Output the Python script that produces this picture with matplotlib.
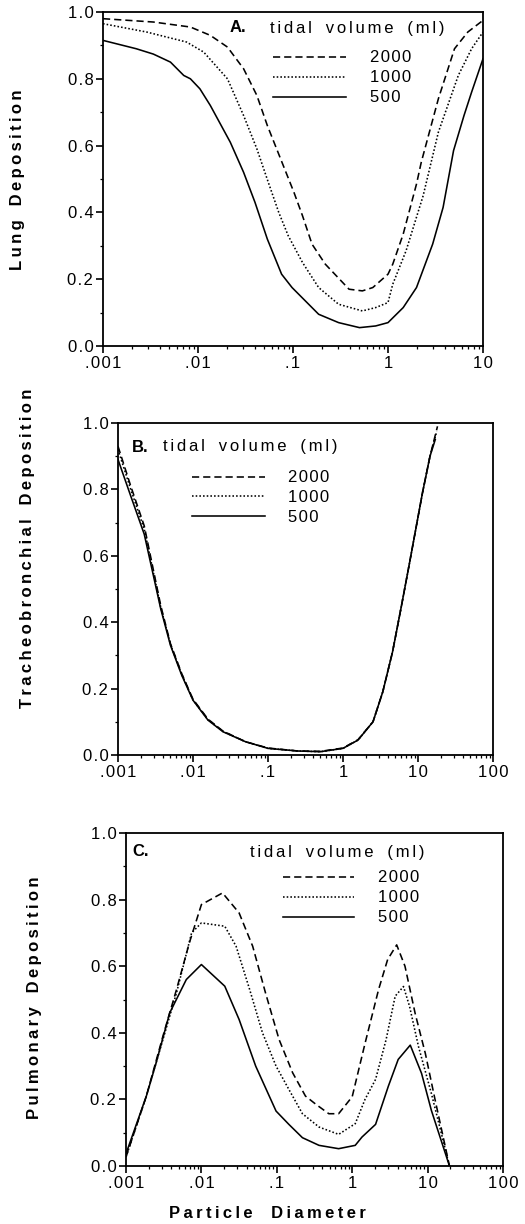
import numpy as np
import matplotlib
matplotlib.use('Agg')
import matplotlib.pyplot as plt
from matplotlib.lines import Line2D
from matplotlib.ticker import FixedLocator, LogLocator, NullFormatter

plt.rcParams['font.family'] = ['Liberation Sans', 'DejaVu Sans']

W, H = 525, 1224

# ---- data (log10 of particle diameter, deposition fraction)
# panel A: lung deposition
a_2000_logd = [-3.0, -2.47, -2.08, -1.87, -1.69, -1.52, -1.38, -1.27, -1.13, -0.99, -0.90, -0.80,
               -0.66, -0.41, -0.27, -0.16, 0.0, 0.05, 0.16, 0.30, 0.35, 0.53, 0.70, 0.84, 1.0]
a_2000 = [0.98, 0.97, 0.955, 0.93, 0.895, 0.83, 0.75, 0.66, 0.56, 0.46, 0.39, 0.305,
          0.245, 0.17, 0.165, 0.175, 0.215, 0.245, 0.335, 0.485, 0.55, 0.74, 0.89, 0.94, 0.975]
a_1000_logd = [-3.0, -2.54, -2.12, -1.94, -1.69, -1.52, -1.38, -1.26, -1.15, -1.05, -0.90, -0.73,
               -0.52, -0.27, -0.13, 0.0, 0.05, 0.19, 0.37, 0.53, 0.74, 0.88, 1.0]
a_1000 = [0.965, 0.94, 0.91, 0.88, 0.80, 0.69, 0.59, 0.49, 0.40, 0.33, 0.25, 0.175,
          0.125, 0.105, 0.115, 0.13, 0.185, 0.285, 0.45, 0.64, 0.81, 0.89, 0.94]
a_500_logd = [-3.0, -2.65, -2.47, -2.29, -2.15, -2.08, -1.98, -1.87, -1.66, -1.52, -1.40, -1.27,
              -1.12, -1.01, -0.73, -0.52, -0.30, -0.13, 0.0, 0.16, 0.30, 0.47, 0.58, 0.69, 0.80,
              0.88, 1.0]
a_500 = [0.915, 0.89, 0.874, 0.85, 0.81, 0.80, 0.77, 0.72, 0.61, 0.52, 0.43, 0.32,
         0.215, 0.175, 0.095, 0.07, 0.055, 0.06, 0.07, 0.115, 0.175, 0.305, 0.415, 0.585, 0.69,
         0.76, 0.86]

# panel B: tracheobronchial deposition
b_2000_logd = [-3.0, -2.83, -2.65, -2.43, -2.3, -2.15, -2.0, -1.8, -1.6, -1.3, -1.0, -0.6, -0.3,
               0.0, 0.2, 0.4, 0.53, 0.66, 0.78, 0.88, 0.97, 1.06, 1.16, 1.26]
b_2000 = [0.93, 0.81, 0.69, 0.45, 0.335, 0.245, 0.168, 0.108, 0.072, 0.04, 0.021, 0.012, 0.011,
          0.021, 0.046, 0.10, 0.19, 0.31, 0.45, 0.57, 0.68, 0.79, 0.90, 0.99]
b_1000_logd = [-3.0, -2.83, -2.65, -2.43, -2.3, -2.15, -2.0, -1.8, -1.6, -1.3, -1.0, -0.6, -0.3,
               0.0, 0.2, 0.4, 0.53, 0.66, 0.78, 0.88, 0.97, 1.06, 1.16, 1.25]
b_1000 = [0.92, 0.80, 0.68, 0.445, 0.333, 0.243, 0.166, 0.106, 0.071, 0.04, 0.02, 0.012, 0.01,
          0.02, 0.045, 0.10, 0.19, 0.31, 0.45, 0.57, 0.68, 0.79, 0.90, 0.975]
b_500_logd = [-3.0, -2.83, -2.65, -2.43, -2.3, -2.15, -2.0, -1.8, -1.6, -1.3, -1.0, -0.6, -0.3,
              0.0, 0.2, 0.4, 0.53, 0.66, 0.78, 0.88, 0.97, 1.06, 1.16, 1.23]
b_500 = [0.89, 0.78, 0.665, 0.44, 0.33, 0.24, 0.165, 0.105, 0.07, 0.04, 0.02, 0.012, 0.01,
         0.02, 0.045, 0.10, 0.19, 0.31, 0.45, 0.57, 0.68, 0.79, 0.90, 0.95]

# panel C: pulmonary deposition
c_2000_logd = [-3.0, -2.73, -2.51, -2.33, -2.16, -2.0, -1.72, -1.50, -1.32, -1.15, -0.97, -0.79,
               -0.62, -0.48, -0.31, -0.18, 0.0, 0.17, 0.35, 0.47, 0.59, 0.70, 0.835, 0.97, 1.10,
               1.29]
c_2000 = [0.027, 0.21, 0.39, 0.53, 0.67, 0.785, 0.82, 0.76, 0.66, 0.52, 0.38, 0.28,
          0.21, 0.185, 0.157, 0.157, 0.208, 0.368, 0.53, 0.62, 0.664, 0.60, 0.458, 0.338, 0.198,
          0.0]
c_1000_logd = [-3.0, -2.73, -2.51, -2.33, -2.13, -2.0, -1.69, -1.54, -1.36, -1.19, -1.01, -0.84,
               -0.66, -0.44, -0.18, 0.04, 0.17, 0.31, 0.45, 0.57, 0.68, 0.76, 0.88, 1.05, 1.29]
c_1000 = [0.027, 0.21, 0.38, 0.52, 0.70, 0.73, 0.72, 0.66, 0.53, 0.40, 0.30, 0.23,
          0.157, 0.117, 0.095, 0.127, 0.2, 0.26, 0.38, 0.51, 0.539, 0.48, 0.358, 0.218, 0.0]
c_500_logd = [-3.0, -2.73, -2.6, -2.42, -2.2, -2.0, -1.69, -1.50, -1.28, -1.01, -0.84, -0.66,
              -0.44, -0.18, 0.04, 0.13, 0.31, 0.48, 0.61, 0.77, 0.92, 1.05, 1.29]
c_500 = [0.037, 0.21, 0.31, 0.46, 0.56, 0.605, 0.54, 0.44, 0.30, 0.165, 0.125, 0.085,
         0.062, 0.052, 0.062, 0.087, 0.125, 0.24, 0.32, 0.363, 0.278, 0.167, 0.0]

volumes = ['2000', '1000', '500']
styles = [(0, (4.5, 2.5)), (0, (1.0, 1.3)), '-']
xtick_labels = ['.001', '.01', '.1', '1', '10', '100']
ytick_labels = ['0.0', '0.2', '0.4', '0.6', '0.8', '1.0']

panels = [
    dict(letter='A.', ylabel='Lung Deposition', xmax=10,
         box=(103, 483, 12, 346), ylab=(18, 180),
         data=[(a_2000_logd, a_2000), (a_1000_logd, a_1000), (a_500_logd, a_500)],
         letter_xy=(230, 28), title_xy=(270, 28), leg_x=(273, 346), leg_y=(57, 77, 97),
         num_x=370),
    dict(letter='B.', ylabel='Tracheobronchial Deposition', xmax=100,
         box=(118, 493, 423, 755), ylab=(28, 548),
         data=[(b_2000_logd, b_2000), (b_1000_logd, b_1000), (b_500_logd, b_500)],
         letter_xy=(132, 447), title_xy=(163, 447), leg_x=(192, 265), leg_y=(477, 496, 516),
         num_x=288),
    dict(letter='C.', ylabel='Pulmonary Deposition', xmax=100,
         box=(126, 503, 833, 1166), ylab=(35, 998),
         data=[(c_2000_logd, c_2000), (c_1000_logd, c_1000), (c_500_logd, c_500)],
         letter_xy=(132, 852), title_xy=(250, 852), leg_x=(283, 354), leg_y=(877, 897, 917),
         num_x=378),
]


def spaced(s, gap='\u2009', word='   '):
    # the scan has wide letter spacing
    return word.join(gap.join(w) for w in s.split())


def fx(x):
    return x / W


def fy(y):
    return 1 - y / H


fig = plt.figure(figsize=(W / 100, H / 100), dpi=100)
FS = 12

for p in panels:
    l, r, t, b = p['box']
    ax = fig.add_axes([fx(l), fy(b), (r - l) / W, (b - t) / H])
    for (lx, ly), ls in zip(p['data'], styles):
        ax.plot(10 ** np.array(lx), ly, color='black', lw=1.15, linestyle=ls)
    ax.set_xscale('log')
    ax.set_xlim(0.001, p['xmax'])
    ax.set_ylim(0, 1.0)
    majors = [m for m in [0.001, 0.01, 0.1, 1, 10, 100] if m <= p['xmax']]
    ax.xaxis.set_major_locator(FixedLocator(majors))
    ax.set_xticklabels([spaced(s, '\u200a') for s in xtick_labels[:len(majors)]])
    ax.xaxis.set_minor_locator(LogLocator(base=10, subs=np.arange(2, 10), numticks=20))
    ax.xaxis.set_minor_formatter(NullFormatter())
    ax.set_yticks(np.arange(0, 1.01, 0.2))
    ax.set_yticklabels([spaced(s, '\u200a') for s in ytick_labels])
    ax.set_yticks(np.arange(0.1, 1.0, 0.2), minor=True)
    ax.tick_params(which='major', direction='out', length=5, width=1.2, labelsize=FS,
                   pad=2)
    ax.tick_params(which='minor', direction='out', length=2.5, width=0.9)
    for s in ax.spines.values():
        s.set_linewidth(1.3)

    # y label
    fig.text(fx(p['ylab'][0]), fy(p['ylab'][1]), spaced(p['ylabel']), rotation=90,
             ha='center', va='center', fontsize=FS, fontweight='bold')

    # panel letter and legend drawn like the original
    fig.text(fx(p['letter_xy'][0]), fy(p['letter_xy'][1]), p['letter'], ha='left',
             va='center', fontsize=FS, fontweight='bold')
    fig.text(fx(p['title_xy'][0]), fy(p['title_xy'][1]),
             spaced('tidal volume (ml)', '\u2006', '   '), ha='left', va='center', fontsize=FS)
    x0, x1 = p['leg_x']
    for yy, ls, v in zip(p['leg_y'], styles, volumes):
        fig.add_artist(Line2D([fx(x0), fx(x1)], [fy(yy), fy(yy)], transform=fig.transFigure,
                              color='black', lw=1.15, linestyle=ls))
        fig.text(fx(p['num_x']), fy(yy + 1), spaced(v, '\u200a'), ha='left', va='center',
                 fontsize=FS)

fig.text(fx(267), fy(1213), spaced('Particle Diameter', '\u2009', '    '), ha='center',
         va='center', fontsize=FS, fontweight='bold')

fig.savefig('out.png', dpi=100)
